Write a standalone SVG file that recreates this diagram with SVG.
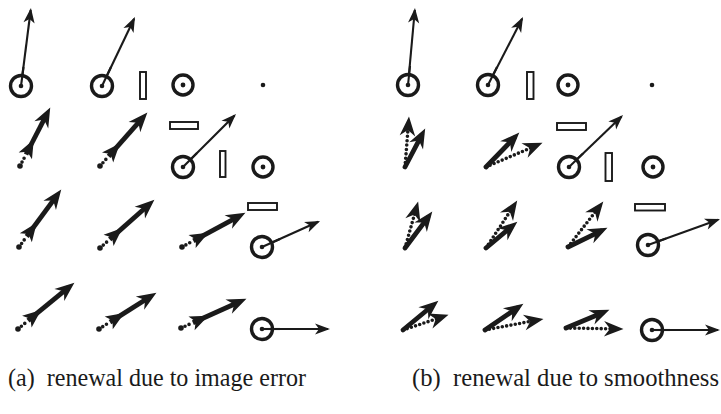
<svg xmlns="http://www.w3.org/2000/svg" width="721" height="414" viewBox="0 0 721 414">
  <style>
    .ring { fill: #fff; stroke: #1a1a1a; stroke-width: 3.4; }
    .pivot { fill: #1a1a1a; }
    .bar { fill: #fff; stroke: #1a1a1a; stroke-width: 1.9; }
    .thin { fill: none; stroke: #1a1a1a; stroke-width: 2.1; marker-end: url(#headThin); }
    .spoke { stroke: #1a1a1a; stroke-width: 2.1; }
    .shaft { fill: none; stroke: #1a1a1a; stroke-width: 4.8; stroke-linecap: round; marker-end: url(#headThick); }
    .shaft.fletched { stroke-linecap: butt; marker-start: url(#headMid); }
    .dots { fill: none; stroke: #1a1a1a; stroke-width: 3.6; stroke-linecap: round; stroke-dasharray: 0 4.4; }
    .dots.headed { marker-end: url(#headThick); }
    .blob { fill: #1a1a1a; }
    .caption { font-family: "Liberation Serif", "Times New Roman", serif; font-size: 24.5px; fill: #1a1a1a; }
  </style>
  <defs>
    <!-- thin vector head: apex sits 2 units past the line end -->
    <marker id="headThin" viewBox="-15 -7 18 14" markerWidth="18" markerHeight="14" refX="0" refY="0" orient="auto" markerUnits="userSpaceOnUse">
      <path d="M2,0 L-13,-5.6 L-9,0 L-13,5.6 Z" fill="#1a1a1a"/>
    </marker>
    <!-- heavy vector head: apex sits 7 units past the line end -->
    <marker id="headThick" viewBox="-14 -9 23 18" markerWidth="23" markerHeight="18" refX="0" refY="0" orient="auto" markerUnits="userSpaceOnUse">
      <path d="M7.5,0 L-12,-7.8 L-6,0 L-12,7.8 Z" fill="#1a1a1a"/>
    </marker>
    <!-- head drawn where the dotted trace meets the heavy shaft -->
    <marker id="headMid" viewBox="-3 -9 22 18" markerWidth="22" markerHeight="18" refX="0" refY="0" orient="auto" markerUnits="userSpaceOnUse">
      <path d="M17,0 L-1.5,-7.5 L3,0 L-1.5,7.5 Z" fill="#1a1a1a"/>
    </marker>
  </defs>

  <!-- (a) renewal due to image error -->
  <g id="panel-a">
    <g id="a-r1c1"><line class="thin" x1="21" y1="86" x2="30.7" y2="10"/><circle class="ring" cx="21" cy="86" r="10.5"/><circle class="pivot" cx="21" cy="86" r="2.3"/><line class="spoke" x1="21" y1="86" x2="23.5" y2="67"/></g>
    <g id="a-r1c2"><line class="thin" x1="102" y1="86" x2="134.1" y2="18.8"/><circle class="ring" cx="102" cy="86" r="10.5"/><circle class="pivot" cx="102" cy="86" r="2.3"/><line class="spoke" x1="102" y1="86" x2="111" y2="67"/></g>
    <g id="a-r1-bar"><rect class="bar" x="140" y="72" width="6" height="27"/></g>
    <g id="a-r1c3"><circle class="ring" cx="183" cy="85" r="10"/><circle class="pivot" cx="183" cy="85" r="2.4"/></g>
    <g id="a-r1c4"><circle class="pivot" cx="263" cy="85" r="2.3"/></g>

    <g id="a-r2c1"><path class="dots" d="M20,166 L26,154.5"/><circle class="blob" cx="20" cy="166" r="2.8"/><path class="shaft fletched" d="M26,154.5 L46.8,114.2"/></g>
    <g id="a-r2c2"><path class="dots" d="M100,166 L108.6,156.3"/><circle class="blob" cx="100" cy="166" r="2.8"/><path class="shaft fletched" d="M108.6,156.3 L142.4,118.2"/></g>
    <g id="a-r2-hbar"><rect class="bar" x="170" y="122" width="28" height="7"/></g>
    <g id="a-r2c3"><line class="thin" x1="183" y1="167" x2="234.6" y2="115.4"/><circle class="ring" cx="183" cy="167" r="10.5"/><circle class="pivot" cx="183" cy="167" r="2.3"/><line class="spoke" x1="183" y1="167" x2="197" y2="153"/></g>
    <g id="a-r2-vbar"><rect class="bar" x="220" y="151" width="5.5" height="26"/></g>
    <g id="a-r2c4"><circle class="ring" cx="263" cy="167" r="10"/><circle class="pivot" cx="263" cy="167" r="2.4"/></g>

    <g id="a-r3c1"><path class="dots" d="M19,247 L26.7,236.5"/><circle class="blob" cx="19" cy="247" r="2.8"/><path class="shaft fletched" d="M26.7,236.5 L56.8,195.6"/></g>
    <g id="a-r3c2"><path class="dots" d="M100,248 L109.7,239.4"/><circle class="blob" cx="100" cy="248" r="2.8"/><path class="shaft fletched" d="M109.7,239.4 L148.8,204.7"/></g>
    <g id="a-r3c3"><path class="dots" d="M182,247 L193.4,240.8"/><circle class="blob" cx="182" cy="247" r="2.8"/><path class="shaft fletched" d="M193.4,240.8 L238.8,216.3"/></g>
    <g id="a-r3-hbar"><rect class="bar" x="248" y="203" width="29" height="7"/></g>
    <g id="a-r3c4"><line class="thin" x1="262" y1="247" x2="318.2" y2="221.8"/><circle class="ring" cx="262" cy="247" r="10.5"/><circle class="pivot" cx="262" cy="247" r="2.3"/><line class="spoke" x1="262" y1="247" x2="280" y2="239"/></g>

    <g id="a-r4c1"><path class="dots" d="M18,329 L28,320.7"/><circle class="blob" cx="18" cy="329" r="2.8"/><path class="shaft fletched" d="M28,320.7 L68.6,287.4"/></g>
    <g id="a-r4c2"><path class="dots" d="M99,329 L110,322.1"/><circle class="blob" cx="99" cy="329" r="2.8"/><path class="shaft fletched" d="M110,322.1 L150.1,296.7"/></g>
    <g id="a-r4c3"><path class="dots" d="M181,328 L192.9,322.7"/><circle class="blob" cx="181" cy="328" r="2.8"/><path class="shaft fletched" d="M192.9,322.7 L239.6,301.8"/></g>
    <g id="a-r4c4"><line class="thin" x1="262" y1="329" x2="328" y2="329"/><circle class="ring" cx="262" cy="329" r="10.5"/><circle class="pivot" cx="262" cy="329" r="2.3"/><line class="spoke" x1="262" y1="329" x2="280" y2="329"/></g>

    <text class="caption" x="8" y="386" xml:space="preserve" textLength="298" lengthAdjust="spacingAndGlyphs">(a)  renewal due to image error</text>
  </g>

  <!-- (b) renewal due to smoothness -->
  <g id="panel-b">
    <g id="b-r1c1"><line class="thin" x1="408" y1="85" x2="414.8" y2="10"/><circle class="ring" cx="408" cy="85" r="10.5"/><circle class="pivot" cx="408" cy="85" r="2.3"/><line class="spoke" x1="408" y1="85" x2="410" y2="66"/></g>
    <g id="b-r1c2"><line class="thin" x1="488" y1="85" x2="522.1" y2="18.8"/><circle class="ring" cx="488" cy="85" r="10.5"/><circle class="pivot" cx="488" cy="85" r="2.3"/><line class="spoke" x1="488" y1="85" x2="497" y2="67"/></g>
    <g id="b-r1-bar"><rect class="bar" x="527" y="72" width="6.5" height="27"/></g>
    <g id="b-r1c3"><circle class="ring" cx="568" cy="85" r="10"/><circle class="pivot" cx="568" cy="85" r="2.4"/></g>
    <g id="b-r1c4"><circle class="pivot" cx="652" cy="85" r="2.3"/></g>

    <g id="b-r2c1"><path class="dots headed" d="M405,167 L408.4,124"/><path class="shaft" d="M405,167 L421.7,135.2"/></g>
    <g id="b-r2c2"><path class="dots headed" d="M486,167 L535.6,145.8"/><path class="shaft" d="M486,167 L514.1,138"/></g>
    <g id="b-r2-hbar"><rect class="bar" x="557" y="123" width="29" height="7"/></g>
    <g id="b-r2c3"><line class="thin" x1="569" y1="167" x2="621.6" y2="116.4"/><circle class="ring" cx="569" cy="167" r="10.5"/><circle class="pivot" cx="569" cy="167" r="2.3"/><line class="spoke" x1="569" y1="167" x2="583" y2="153.5"/></g>
    <g id="b-r2-vbar"><rect class="bar" x="605.5" y="153" width="6.5" height="28"/></g>
    <g id="b-r2c4"><circle class="ring" cx="653" cy="167" r="10"/><circle class="pivot" cx="653" cy="167" r="2.4"/></g>

    <g id="b-r3c1"><path class="dots headed" d="M405,248 L416.1,208.7"/><path class="shaft" d="M405,248 L427.8,217.6"/></g>
    <g id="b-r3c2"><path class="dots headed" d="M486,248 L513.1,206.8"/><path class="shaft" d="M486,248 L511.6,226.5"/></g>
    <g id="b-r3c3"><path class="dots headed" d="M568,247 L598.7,207.5"/><path class="shaft" d="M568,247 L600.7,231.1"/></g>
    <g id="b-r3-hbar"><rect class="bar" x="635" y="204" width="30" height="6.5"/></g>
    <g id="b-r3c4"><line class="thin" x1="648" y1="245" x2="718.1" y2="219.7"/><circle class="ring" cx="648" cy="245" r="10.5"/><circle class="pivot" cx="648" cy="245" r="2.3"/><line class="spoke" x1="648" y1="245" x2="666" y2="238.5"/></g>

    <g id="b-r4c1"><path class="dots headed" d="M403,330 L441.4,317.2"/><path class="shaft" d="M403,330 L432.6,305.5"/></g>
    <g id="b-r4c2"><path class="dots headed" d="M485,330 L536.1,320.3"/><path class="shaft" d="M485,330 L517.2,308"/></g>
    <g id="b-r4c3"><path class="dots headed" d="M566,328 L616,328.9"/><path class="shaft" d="M566,328 L602.5,312.7"/></g>
    <g id="b-r4c4"><line class="thin" x1="652" y1="330" x2="718" y2="330"/><circle class="ring" cx="652" cy="330" r="10.5"/><circle class="pivot" cx="652" cy="330" r="2.3"/><line class="spoke" x1="652" y1="330" x2="670" y2="330"/></g>

    <text class="caption" x="412" y="386" xml:space="preserve" textLength="307" lengthAdjust="spacingAndGlyphs">(b)  renewal due to smoothness</text>
  </g>
</svg>
